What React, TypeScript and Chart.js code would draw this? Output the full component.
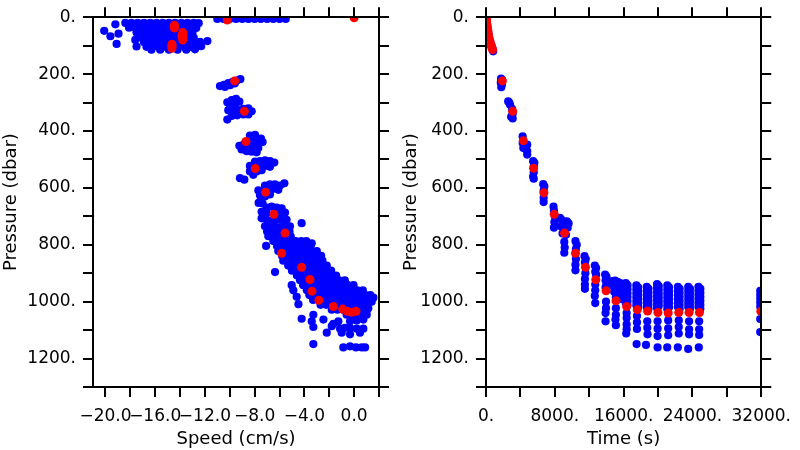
import { useEffect, useRef } from "react";
import { Chart, registerables } from "chart.js";

Chart.register(...registerables);

// ---------- axes ----------
const pressureMin = 0;
const pressureMax = 1300;
const pressureTicks = [0, 100, 200, 300, 400, 500, 600, 700, 800, 900, 1000, 1100, 1200, 1300];
const pressureLabels = [0, 200, 400, 600, 800, 1000, 1200];

const speedMin = -21;
const speedMax = 2;
const speedTicks = [-20, -18, -16, -14, -12, -10, -8, -6, -4, -2, 0, 2];
const speedLabels = [-20, -16, -12, -8, -4, 0];

const timeMin = 0;
const timeMax = 32000;
const timeTicks = [0, 4000, 8000, 12000, 16000, 20000, 24000, 28000, 32000];
const timeLabels = [0, 8000, 16000, 24000, 32000];

// ---------- left panel: [speed (cm/s), pressure (dbar)] ----------
const speedBlueSurface: [number, number][] = [
  [-18.4, 20], [-17.9, 20], [-17.4, 20], [-16.9, 20], [-16.4, 20], [-15.9, 20], [-15.4, 20], [-14.9, 20], [-14.4, 20], [-13.9, 20], [-13.4, 20], [-12.9, 20], [-12.5, 21],
  [-18.1, 37], [-17.6, 37], [-17.1, 37], [-16.6, 37], [-16.1, 37], [-15.6, 37], [-15.1, 37], [-14.6, 37], [-14.1, 37], [-13.6, 37], [-13.1, 37], [-12.7, 38],
  [-17.5, 54], [-17.0, 54], [-16.5, 54], [-16.0, 54], [-15.5, 54], [-15.0, 54], [-14.5, 54], [-14.0, 54], [-13.5, 54], [-13.0, 55],
  [-17.2, 71], [-16.7, 71], [-16.2, 71], [-15.7, 71], [-15.2, 71], [-14.7, 71], [-14.2, 71], [-13.7, 71], [-13.2, 71], [-12.9, 72],
  [-16.9, 88], [-16.4, 88], [-15.9, 88], [-15.4, 88], [-14.9, 88], [-14.4, 88], [-13.9, 88], [-13.4, 88], [-12.9, 88], [-12.4, 87], [-11.8, 84],
  [-16.7, 104], [-16.2, 104], [-15.7, 104], [-15.2, 104], [-14.7, 104], [-14.2, 104], [-13.7, 104], [-13.2, 104], [-12.7, 104], [-12.3, 102],
  [-16.3, 114], [-15.6, 114], [-14.9, 114], [-14.2, 114], [-13.5, 114], [-12.8, 113],
  [-20.1, 48], [-19.6, 67], [-19.1, 94], [-19.2, 25], [-18.95, 58], [-17.6, 80], [-17.5, 103],
  [-11.0, 6], [-10.5, 6], [-10.0, 6], [-9.5, 6], [-9.0, 6], [-8.5, 6], [-8.0, 6], [-7.5, 6], [-7.0, 6], [-6.5, 6], [-6.0, 6], [-5.5, 6],
];

const speedBlueMid: [number, number][] = [
  [-10.79, 242], [-10.47, 238], [-10.12, 232], [-9.77, 227], [-9.45, 223], [-9.15, 218], [-10.39, 245], [-9.98, 239], [-9.6, 233],
  [-10.2, 299], [-9.85, 291], [-9.5, 287], [-9.23, 297], [-9.98, 308], [-9.58, 305], [-10.12, 327], [-9.72, 324], [-9.31, 327],
  [-8.91, 322], [-8.51, 320], [-8.24, 331], [-8.51, 342], [-8.91, 342], [-9.4, 345], [-9.85, 347], [-10.2, 360],
  [-8.38, 416], [-7.97, 414], [-7.49, 427], [-8.16, 431], [-7.79, 442], [-7.36, 439], [-9.23, 452], [-8.86, 446], [-8.51, 454],
  [-8.11, 457], [-7.71, 460], [-9.05, 465], [-8.64, 471], [-8.24, 473], [-7.84, 475],
  [-7.97, 508], [-7.57, 506], [-7.17, 503], [-6.77, 506], [-6.42, 511], [-8.38, 523], [-8.0, 521], [-7.57, 523], [-7.17, 523],
  [-6.77, 526], [-8.38, 542], [-7.84, 542], [-7.44, 538], [-8.11, 554], [-9.18, 566], [-8.83, 571],
  [-7.17, 592], [-6.77, 588], [-6.37, 588], [-5.96, 592], [-5.61, 584], [-7.7, 609], [-7.3, 611], [-6.9, 607], [-6.5, 603],
  [-6.1, 607], [-7.57, 626], [-7.17, 630], [-6.77, 623], [-7.1, 617], [-7.5, 640], [-7.68, 653], [-7.36, 655],
  [-7.03, 669], [-6.63, 666], [-6.23, 669], [-5.83, 672], [-7.44, 684], [-7.03, 689], [-6.2, 690], [-5.96, 689], [-5.56, 687],
  [-7.44, 707], [-7.03, 712], [-6.63, 715], [-6.23, 710], [-5.83, 712], [-5.43, 712],
  [-7.17, 735], [-6.77, 738], [-6.37, 735], [-5.96, 738], [-5.56, 733], [-5.16, 735], [-4.22, 724],
];

const speedBlueDeep: [number, number][] = [
  [-7.0, 753], [-6.55, 753], [-6.1, 753], [-5.65, 753], [-5.2, 753],
  [-6.9, 770], [-6.45, 770], [-6.0, 770], [-5.55, 770], [-5.1, 770],
  [-6.5, 787], [-6.05, 787], [-5.6, 787], [-5.15, 787], [-4.7, 787], [-4.25, 787], [-3.85, 787],
  [-6.2, 804], [-5.75, 804], [-5.3, 804], [-4.85, 804], [-4.4, 804], [-3.95, 804], [-3.5, 804], [-7.08, 804], [-3.41, 795],
  [-6.1, 822], [-5.65, 822], [-5.2, 822], [-4.75, 822], [-4.3, 822], [-3.85, 822], [-3.4, 822], [-3.0, 822],
  [-5.8, 839], [-5.35, 839], [-4.9, 839], [-4.45, 839], [-4.0, 839], [-3.55, 839], [-3.1, 839], [-2.65, 839],
  [-5.7, 856], [-5.25, 856], [-4.8, 856], [-4.35, 856], [-3.9, 856], [-3.45, 856], [-3.0, 856], [-2.55, 856],
  [-5.3, 873], [-4.85, 873], [-4.4, 873], [-3.95, 873], [-3.5, 873], [-3.05, 873], [-2.6, 873], [-2.2, 873],
  [-5.0, 891], [-4.55, 891], [-4.1, 891], [-3.65, 891], [-3.2, 891], [-2.75, 891], [-2.3, 891], [-1.85, 891], [-6.36, 896],
  [-4.6, 908], [-4.15, 908], [-3.7, 908], [-3.25, 908], [-2.8, 908], [-2.35, 908], [-1.9, 908], [-1.45, 908],
  [-4.35, 925], [-3.9, 925], [-3.45, 925], [-3.0, 925], [-2.55, 925], [-2.1, 925], [-1.65, 925], [-1.2, 925], [-0.75, 925],
  [-4.1, 942], [-3.65, 942], [-3.2, 942], [-2.75, 942], [-2.3, 942], [-1.85, 942], [-1.4, 942], [-0.95, 942], [-0.5, 942], [-0.05, 942], [-5.02, 942],
  [-3.8, 960], [-3.35, 960], [-2.9, 960], [-2.45, 960], [-2.0, 960], [-1.55, 960], [-1.1, 960], [-0.65, 960], [-0.2, 960], [0.25, 960], [0.7, 960], [-4.89, 960],
  [-3.6, 977], [-3.15, 977], [-2.7, 977], [-2.25, 977], [-1.8, 977], [-1.35, 977], [-0.9, 977], [-0.45, 977], [0.0, 977], [0.45, 977], [0.9, 977], [1.3, 977], [-4.62, 983],
  [-3.3, 994], [-2.85, 994], [-2.4, 994], [-1.95, 994], [-1.5, 994], [-1.05, 994], [-0.6, 994], [-0.15, 994], [0.3, 994], [0.75, 994], [1.2, 994], [1.55, 986],
  [-2.7, 1011], [-2.25, 1011], [-1.8, 1011], [-1.35, 1011], [-0.9, 1011], [-0.45, 1011], [0.0, 1011], [0.45, 1011], [0.85, 1011], [-4.48, 1009],
  [-1.8, 1028], [-1.35, 1028], [-0.9, 1028], [-0.45, 1028], [0.0, 1028], [0.45, 1028], [1.0, 1034],
  [-0.6, 1046], [-0.15, 1046], [0.3, 1046], [0.7, 1046], [-3.28, 1046],
  [-4.22, 1060], [-3.41, 1069], [-3.28, 1089], [-2.47, 1063], [-3.28, 1149], [-1.8, 1086], [-2.2, 1109], [-1.67, 1078],
  [-1.13, 1095], [-0.73, 1092], [-0.33, 1092], [0.21, 1095], [0.74, 1095],
  [-1.0, 1109], [-0.33, 1115], [0.47, 1109],
  [-1.27, 1069], [-0.33, 1069], [0.21, 1066], [0.74, 1063],
  [-0.87, 1161], [-0.33, 1157], [0.15, 1161], [0.61, 1161], [0.88, 1161],
  [1.41, 1000], [1.14, 1023], [1.01, 1046],
];

const speedRed: [number, number][] = [
  [0.0, 2], [-10.2, 10],
  [-14.45, 28], [-14.45, 33], [-14.45, 38],
  [-13.78, 54], [-13.78, 61], [-13.85, 67], [-13.78, 73], [-13.78, 80],
  [-14.65, 95], [-14.65, 102], [-14.65, 109],
  [-9.61, 224], [-8.83, 331], [-8.7, 437], [-7.95, 532], [-7.12, 615], [-6.45, 693], [-5.56, 759], [-5.83, 830],
  [-4.22, 879], [-3.55, 922], [-3.39, 963], [-2.83, 995], [-1.67, 1017], [-0.92, 1026], [-0.55, 1034], [-0.2, 1037], [0.15, 1034],
];

// ---------- right panel: [time (s), pressure (dbar)] ----------
const timeBlueDescent: [number, number][] = [
  [330, 62], [480, 85], [640, 100], [760, 112], [830, 120],
  [1750, 216], [1880, 220], [1720, 230], [1850, 236], [1780, 246],
  [2580, 296], [2700, 300], [2800, 308], [3030, 322], [3100, 339], [3100, 356], [2920, 350],
  [4260, 419], [4260, 442], [4340, 460], [4500, 455], [4790, 448], [4790, 471], [4790, 483],
  [5480, 506], [5620, 512], [5550, 525], [5550, 545], [5480, 560], [5550, 568],
  [6650, 587], [6780, 595], [6700, 610], [6700, 635], [6700, 650],
  [7850, 666], [7900, 680], [8000, 700], [7950, 720], [7900, 740],
  [8600, 705], [8800, 712], [9000, 720], [9400, 718], [9600, 725], [8700, 735], [9100, 740], [9500, 740],
  [8900, 760], [9300, 765], [9100, 790], [9150, 810], [9100, 828],
  [10400, 787], [10550, 800], [10450, 815], [10450, 850], [10400, 870], [10400, 890],
  [11450, 840], [11600, 850], [11500, 862], [11550, 900], [11500, 920], [11500, 940], [11500, 955],
  [12650, 873], [12800, 882], [12700, 895], [12800, 905], [12700, 940], [12700, 960], [12650, 980], [12700, 1005],
  [13850, 905], [14000, 912], [13900, 925], [14000, 940], [13900, 950], [13950, 1000], [13950, 1023], [13900, 1040], [13900, 1069],
  [14700, 928], [15000, 926], [15300, 930], [15600, 935], [14800, 945], [15100, 948], [15400, 950], [15700, 952],
  [14900, 965], [15200, 968], [15500, 970], [15100, 985], [15350, 982], [15700, 990],
  [15100, 1023], [15100, 1046], [15050, 1063], [15100, 1083],
];

const timeBlueBottom: [number, number][] = [
  [16250, 935], [16250, 949], [16250, 963], [16250, 977], [16250, 991], [16250, 1005],
  [16450, 942], [16450, 956], [16450, 970], [16450, 984], [16450, 998], [16450, 1012],
  [16350, 1040], [16350, 1057], [16350, 1080], [16350, 1097], [16300, 1112],
  [17480, 943], [17480, 957], [17480, 971], [17480, 985], [17480, 999], [17480, 1013],
  [17680, 950], [17680, 964], [17680, 978], [17680, 992], [17680, 1006], [17680, 1020],
  [17550, 1050], [17550, 1073], [17550, 1096], [17510, 1149],
  [18685, 948], [18685, 962], [18685, 976], [18685, 990], [18685, 1004], [18685, 1018],
  [18885, 955], [18885, 969], [18885, 983], [18885, 997], [18885, 1011], [18885, 1025],
  [18750, 1069], [18750, 1092], [18780, 1115], [18600, 1152],
  [19885, 938], [19885, 952], [19885, 966], [19885, 980], [19885, 994], [19885, 1008], [19885, 1022],
  [20085, 945], [20085, 959], [20085, 973], [20085, 987], [20085, 1001], [20085, 1015],
  [19950, 1069], [19950, 1095], [19950, 1121], [19950, 1161],
  [21080, 943], [21080, 957], [21080, 971], [21080, 985], [21080, 999], [21080, 1013], [21080, 1027],
  [21280, 950], [21280, 964], [21280, 978], [21280, 992], [21280, 1006], [21280, 1020],
  [21180, 1066], [21180, 1094], [21180, 1118], [21070, 1161],
  [22310, 948], [22310, 962], [22310, 976], [22310, 990], [22310, 1004], [22310, 1018],
  [22510, 955], [22510, 969], [22510, 983], [22510, 997], [22510, 1011], [22510, 1025],
  [22410, 1066], [22410, 1089], [22410, 1112], [22300, 1161],
  [23510, 948], [23510, 962], [23510, 976], [23510, 990], [23510, 1004], [23510, 1018],
  [23710, 955], [23710, 969], [23710, 983], [23710, 997], [23710, 1011], [23710, 1025],
  [23610, 1069], [23610, 1097], [23610, 1115], [23500, 1166],
  [24700, 948], [24700, 962], [24700, 976], [24700, 990], [24700, 1004], [24700, 1018],
  [24920, 955], [24920, 969], [24920, 983], [24920, 997], [24920, 1011], [24920, 1025],
  [24780, 1069], [24780, 1097], [24780, 1117], [24740, 1161],
  [31880, 962], [31880, 976], [31880, 990], [31880, 1004], [31880, 1018], [31880, 1061], [31880, 1107],
];

const timeRed: [number, number][] = [
  [20, 2], [40, 6], [80, 16], [130, 27], [180, 38], [240, 50], [300, 63], [370, 74], [450, 84], [530, 93], [610, 101], [690, 108], [770, 114],
  [1905, 224], [3103, 331], [4338, 434], [5536, 531], [6734, 617], [7931, 693], [9130, 759], [10403, 830], [11565, 879],
  [12760, 923], [13957, 962], [15115, 997], [16350, 1017], [17584, 1028], [18785, 1033], [19985, 1038], [21180, 1040],
  [22410, 1038], [23612, 1038], [24814, 1038], [31950, 1034],
];

// ---------- helpers ----------
const FONT_FAMILY = "'DejaVu Sans', sans-serif";
const toPts = (arr: [number, number][]) => arr.map(([x, y]) => ({ x, y }));
const fmtPressure = (v: number) => `${v}.`;
const fmtSpeed = (v: number) => (v < 0 ? "\u2212" : "") + Math.abs(v).toFixed(1);
const fmtTime = (v: number) => `${v}.`;

type PanelCfg = {
  xMin: number;
  xMax: number;
  xTicks: number[];
  xLabels: number[];
  fmtX: (v: number) => string;
  xTitle: string;
  leftW: number;
  rightW: number;
  red: [number, number][];
  blue: [number, number][];
};

function makeConfig(cfg: PanelCfg): any {
  const grid = { drawOnChartArea: false, drawTicks: true, tickLength: 10, color: "#000", lineWidth: 2 };
  const border = { display: true, color: "#000", width: 2, z: 1 };
  const tickFont = { family: FONT_FAMILY, size: 17 };
  const titleFont = { family: FONT_FAMILY, size: 18, lineHeight: 1.2 };
  const setTicks = (vals: number[]) => (s: any) => {
    s.ticks = vals.map((v) => ({ value: v }));
  };
  return {
    type: "scatter",
    data: {
      datasets: [
        {
          label: "red",
          data: toPts(cfg.red),
          backgroundColor: "#ff0000",
          borderColor: "#ff0000",
          pointRadius: 4.5,
          pointBorderWidth: 0,
          pointHoverRadius: 4.5,
          xAxisID: "x",
          yAxisID: "y",
          order: 0,
        },
        {
          label: "blue",
          data: toPts(cfg.blue),
          backgroundColor: "#0000ff",
          borderColor: "#0000ff",
          pointRadius: 4.1,
          pointBorderWidth: 0,
          pointHoverRadius: 4.1,
          xAxisID: "x",
          yAxisID: "y",
          order: 1,
        },
      ],
    },
    options: {
      responsive: false,
      devicePixelRatio: 1,
      animation: false,
      events: [],
      layout: { padding: 0, autoPadding: false },
      plugins: { legend: { display: false }, tooltip: { enabled: false } },
      scales: {
        x: {
          type: "linear",
          position: "bottom",
          min: cfg.xMin,
          max: cfg.xMax,
          afterBuildTicks: setTicks(cfg.xTicks),
          afterFit: (s: any) => {
            s.height = 63;
          },
          ticks: {
            autoSkip: false,
            maxRotation: 0,
            minRotation: 0,
            padding: 9,
            color: "#000",
            font: tickFont,
            callback: (v: number) => (cfg.xLabels.includes(v) ? cfg.fmtX(v) : ""),
          },
          grid,
          border,
          title: { display: true, text: cfg.xTitle, color: "#000", font: titleFont, padding: { top: 0, bottom: 0 } },
        },
        x2: {
          type: "linear",
          position: "top",
          min: cfg.xMin,
          max: cfg.xMax,
          afterBuildTicks: setTicks(cfg.xTicks),
          afterFit: (s: any) => {
            s.height = 10;
          },
          ticks: { display: false },
          grid,
          border,
        },
        y: {
          type: "linear",
          position: "left",
          reverse: true,
          min: pressureMin,
          max: pressureMax,
          afterBuildTicks: setTicks(pressureTicks),
          afterFit: (s: any) => {
            s.width = cfg.leftW;
          },
          ticks: {
            autoSkip: false,
            padding: 7,
            color: "#000",
            font: tickFont,
            callback: (v: number) => (pressureLabels.includes(v) ? fmtPressure(v) : ""),
          },
          grid,
          border,
          title: { display: true, text: "Pressure (dbar)", color: "#000", font: titleFont, padding: { top: 1, bottom: 0 } },
        },
        y2: {
          type: "linear",
          position: "right",
          reverse: true,
          min: pressureMin,
          max: pressureMax,
          afterBuildTicks: setTicks(pressureTicks),
          afterFit: (s: any) => {
            s.width = cfg.rightW;
          },
          ticks: { display: false },
          grid,
          border,
        },
      },
    },
  };
}

function Panel({ cfg, left }: { cfg: PanelCfg; left: number }) {
  const ref = useRef<HTMLCanvasElement | null>(null);
  useEffect(() => {
    if (!ref.current) return;
    const chart = new Chart(ref.current, makeConfig(cfg));
    return () => chart.destroy();
  }, [cfg]);
  return (
    <canvas
      ref={ref}
      width={400}
      height={450}
      style={{ position: "absolute", left, top: 0, width: 400, height: 450 }}
    />
  );
}

const speedPanel: PanelCfg = {
  xMin: speedMin,
  xMax: speedMax,
  xTicks: speedTicks,
  xLabels: speedLabels,
  fmtX: fmtSpeed,
  xTitle: "Speed (cm/s)",
  leftW: 93,
  rightW: 21,
  red: speedRed,
  blue: [...speedBlueSurface, ...speedBlueMid, ...speedBlueDeep],
};

const timePanel: PanelCfg = {
  xMin: timeMin,
  xMax: timeMax,
  xTicks: timeTicks,
  xLabels: timeLabels,
  fmtX: fmtTime,
  xTitle: "Time (s)",
  leftW: 86,
  rightW: 29,
  red: timeRed,
  blue: [...timeBlueDescent, ...timeBlueBottom],
};

export default function App() {
  return (
    <div style={{ position: "absolute", left: 0, top: 0, width: 800, height: 450, background: "#fff", overflow: "hidden" }}>
      <Panel cfg={speedPanel} left={0} />
      <Panel cfg={timePanel} left={400} />
    </div>
  );
}
